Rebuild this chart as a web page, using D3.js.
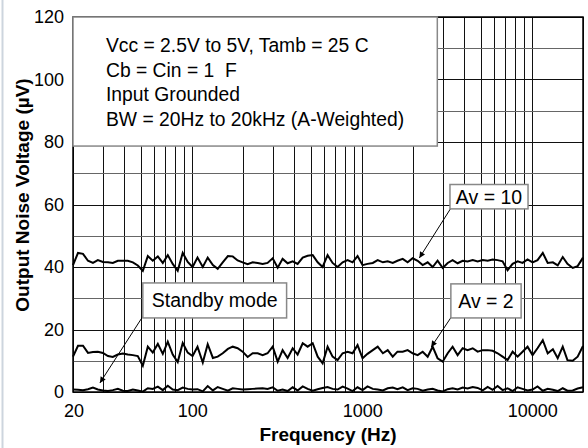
<!DOCTYPE html>
<html>
<head>
<meta charset="utf-8">
<script src="https://cdn.jsdelivr.net/npm/d3@7"></script>
<style>
  body { margin: 0; background: #fff; }
  svg { display: block; font-family: "Liberation Sans", Arial, sans-serif; }
  svg text { white-space: pre; }
</style>
</head>
<body>
<div id="chart"></div>
<script>
// Frequency points of the sweep (Hz)
const freqs = [
  20, 21.4, 22.9, 24.5, 26.2, 28.0, 30.0, 32.1, 34.3, 36.7,
  39.3, 42.0, 45.0, 48.1, 51.5, 55.1, 58.9, 63.1, 67.5, 72.2,
  77.2, 82.6, 88.4, 94.6, 101, 108, 116, 124, 133, 142,
  152, 163, 174, 186, 199, 213, 228, 244, 261, 279,
  299, 320, 342, 366, 392, 419, 449, 480, 514, 550,
  588, 629, 673, 720, 771, 825, 882, 944, 1010, 1080,
  1160, 1240, 1330, 1420, 1520, 1620, 1740, 1860, 1990, 2130,
  2280, 2440, 2610, 2790, 2990, 3200, 3420, 3660, 3920, 4190,
  4490, 4800, 5140, 5500, 5880, 6290, 6730, 7200, 7710, 8250,
  8820, 9440, 10100, 10800, 11600, 12400, 13300, 14200, 15200, 16200,
  17400, 18600, 20000
]

// Output noise (µV)
const av10 = [
  40.6, 44.5, 44.2, 42.0, 41.3, 42.2, 41.6, 41.5, 41.3, 42.0,
  42.0, 42.0, 41.5, 40.5, 38.8, 43.5, 42.0, 43.4, 41.3, 43.8,
  41.0, 38.8, 44.5, 41.6, 40.0, 43.0, 40.0, 43.0, 40.6, 39.4,
  41.5, 43.5, 43.4, 42.1, 41.5, 40.9, 41.5, 41.3, 41.0, 41.3,
  42.8, 39.8, 42.6, 41.2, 41.8, 41.0, 43.0, 43.6, 43.8, 41.5,
  40.0, 43.8, 41.3, 40.0, 41.5, 42.2, 41.5, 43.5, 40.6, 41.0,
  41.3, 42.2, 41.5, 41.8, 41.3, 42.0, 42.6, 41.5, 42.8, 42.0,
  40.6, 41.5, 40.0, 42.0, 39.7, 41.3, 42.2, 41.2, 42.0, 41.8,
  42.2, 41.8, 42.2, 42.0, 42.4, 42.2, 41.8, 39.0, 41.0, 41.8,
  41.3, 42.4, 41.5, 42.2, 44.5, 41.3, 41.5, 40.5, 43.2, 41.0,
  39.7, 40.3, 43.0
]

const av2 = [
  11.3, 14.8, 14.8, 12.5, 12.8, 12.9, 12.5, 11.5, 11.2, 12.0,
  12.3, 12.0, 11.8, 11.5, 8.4, 14.5, 12.6, 15.4, 12.2, 16.1,
  12.0, 9.6, 15.7, 12.6, 11.5, 14.5, 9.4, 15.3, 10.9, 11.3,
  12.4, 13.8, 14.5, 14.0, 12.9, 11.2, 12.4, 12.4, 11.8, 12.4,
  14.5, 9.7, 13.4, 10.9, 14.0, 12.0, 15.6, 14.5, 15.6, 11.3,
  9.2, 14.5, 11.3, 10.2, 12.4, 12.9, 12.4, 15.0, 10.8, 12.2,
  13.4, 14.5, 12.4, 13.4, 11.3, 12.9, 12.9, 13.4, 12.4, 11.8,
  12.9, 11.3, 14.5, 10.8, 9.7, 12.4, 14.5, 11.8, 14.0, 13.4,
  14.0, 12.9, 13.4, 13.4, 13.2, 12.4, 11.3, 10.2, 12.9, 11.3,
  12.9, 14.5, 11.8, 14.0, 16.6, 12.4, 13.7, 10.8, 14.5, 10.2,
  10.0, 11.3, 14.7
]

const standby = [
  0.8, 0.7, 0.6, 0.9, 1.4, 0.8, 0.5, 0.3, 0.6, 1.0,
  0.4, 0.3, 0.8, 0.5, 0.1, 1.2, 1.0, 1.7, 0.6, 2.0,
  0.8, 0.6, 1.4, 1.0, 0.8, 0.9, 0.2, 1.9, 0.5, 1.6,
  1.0, 0.4, 1.2, 1.0, 0.8, 0.9, 1.0, 1.1, 1.2, 1.0,
  1.5, 0.4, 0.8, 0.3, 1.5, 0.5, 1.8, 1.0, 0.4, 0.9,
  1.3, 1.6, 1.0, 0.8, 1.7, 1.1, 0.3, 1.5, 0.6, 1.8,
  1.0, 0.8, 0.5, 1.2, 1.4, 0.9, 1.5, 0.6, 1.2, 1.0,
  0.4, 0.8, 1.0, 0.5, 0.2, 0.9, 1.2, 0.8, 1.4, 1.1,
  1.6, 1.3, 0.5, 1.6, 0.7, 1.9, 0.6, 1.2, 0.3, 1.5,
  1.0, 0.5, 0.8, 1.8, 0.4, 1.0, 0.7, 0.3, 1.2, 0.4,
  0.5, 1.1, 1.5
]

const xTickLabels = [20, 100, 1000, 10000]
const yTickLabels = [0, 20, 40, 60, 80, 100, 120]

const conditions = [
  "Vcc = 2.5V to 5V, Tamb = 25 C",
  "Cb = Cin = 1  F",
  "Input Grounded",
  "BW = 20Hz to 20kHz (A-Weighted)"
]

const width = 588
const height = 448
const margin = { top: 17, right: 5, bottom: 56, left: 73 }

const x = d3.scaleLog()
  .domain([20, 20000])
  .range([margin.left, width - margin.right])

const y = d3.scaleLinear()
  .domain([0, 120])
  .range([height - margin.bottom, margin.top])

// callout boxes in data units: [f0, f1, vTop, vBottom], arrow from -> to
const callouts = [
  { label: "Av = 10", box: [3300, 9500, 66.4, 58.6], from: [3320, 58.6], to: [2180, 42.9] },
  { label: "Av = 2", box: [3340, 8650, 34.6, 23.7], from: [3380, 24.2], to: [2560, 14.4] },
  { label: "Standby mode", box: [51.5, 361, 34.9, 23.7], from: [51.5, 24.2], to: [28.8, 2.9] }
]
const condBox = [20, 2780, 120, 78.7]

const svg = d3.select("#chart")
  .append("svg")
  .attr("width", width)
  .attr("height", height)

// faint page edge on the left
svg.append("line")
  .attr("x1", 2.5).attr("x2", 2.5)
  .attr("y1", 0).attr("y2", height)
  .attr("stroke", "#cdd5de")
  .attr("stroke-width", 2)

// Grid
svg.append("g")
  .selectAll("line")
  .data(x.ticks())
  .join("line")
  .attr("x1", d => Math.round(x(d)) + 0.5)
  .attr("x2", d => Math.round(x(d)) + 0.5)
  .attr("y1", y(0))
  .attr("y2", y(120))
  .attr("stroke", "#111")
  .attr("stroke-width", 1)

svg.append("g")
  .selectAll("line")
  .data(y.ticks(12))
  .join("line")
  .attr("x1", x(20))
  .attr("x2", x(20000))
  .attr("y1", d => Math.round(y(d)) + 0.5)
  .attr("y2", d => Math.round(y(d)) + 0.5)
  .attr("stroke", d => d % 20 === 0 ? "#111" : "#666")
  .attr("stroke-width", 1)

// Curves
const line = d3.line()
  .x((d, i) => x(freqs[i]))
  .y(d => y(d))

for (const s of [av10, av2, standby]) {
  svg.append("path")
    .datum(s)
    .attr("fill", "none")
    .attr("stroke", "#000")
    .attr("stroke-width", 2)
    .attr("stroke-linejoin", "miter")
    .attr("d", line)
}

// Frame
svg.append("rect")
  .attr("x", x(20))
  .attr("y", y(120))
  .attr("width", x(20000) - x(20))
  .attr("height", y(0) - y(120))
  .attr("fill", "none")
  .attr("stroke", "#000")
  .attr("stroke-width", 1.5)

// Tick labels
svg.append("g")
  .selectAll("text")
  .data(yTickLabels)
  .join("text")
  .attr("x", x(20) - 9)
  .attr("y", d => y(d))
  .attr("dy", "0.35em")
  .attr("text-anchor", "end")
  .attr("font-size", 18)
  .text(d => d)

svg.append("g")
  .selectAll("text")
  .data(xTickLabels)
  .join("text")
  .attr("x", d => x(d) + 1)
  .attr("y", y(0) + 25)
  .attr("text-anchor", "middle")
  .attr("font-size", 18)
  .text(d => d)

// Axis titles
svg.append("text")
  .attr("x", (x(20) + x(20000)) / 2)
  .attr("y", height - 7)
  .attr("text-anchor", "middle")
  .attr("font-size", 19)
  .attr("font-weight", "bold")
  .text("Frequency (Hz)")

svg.append("text")
  .attr("transform", `translate(29,195) rotate(-90)`)
  .attr("text-anchor", "middle")
  .attr("font-size", 19)
  .attr("font-weight", "bold")
  .text("Output Noise Voltage (µV)")

// Conditions box
svg.append("rect")
  .attr("x", x(condBox[0]))
  .attr("y", y(condBox[2]))
  .attr("width", x(condBox[1]) - x(condBox[0]))
  .attr("height", y(condBox[3]) - y(condBox[2]))
  .attr("fill", "#fff")
  .attr("stroke", "#888")
  .attr("stroke-width", 1.5)

svg.append("g")
  .selectAll("text")
  .data(conditions)
  .join("text")
  .attr("x", x(condBox[0]) + 33)
  .attr("y", (d, i) => y(condBox[2]) + 35 + i * 24.5)
  .attr("font-size", 19.3)
  .text(d => d)

// Callouts
svg.append("defs").append("marker")
  .attr("id", "arrow")
  .attr("viewBox", "0 0 10 10")
  .attr("refX", 10)
  .attr("refY", 5)
  .attr("markerWidth", 8)
  .attr("markerHeight", 6)
  .attr("markerUnits", "userSpaceOnUse")
  .attr("orient", "auto")
  .append("path")
  .attr("d", "M0,0L10,5L0,10z")
  .attr("fill", "#000")

const cg = svg.append("g")
  .selectAll("g")
  .data(callouts)
  .join("g")

cg.append("line")
  .attr("x1", d => x(d.from[0]))
  .attr("y1", d => y(d.from[1]))
  .attr("x2", d => x(d.to[0]))
  .attr("y2", d => y(d.to[1]))
  .attr("stroke", "#000")
  .attr("stroke-width", 1)
  .attr("marker-end", "url(#arrow)")

cg.append("rect")
  .attr("x", d => x(d.box[0]))
  .attr("y", d => y(d.box[2]))
  .attr("width", d => x(d.box[1]) - x(d.box[0]))
  .attr("height", d => y(d.box[3]) - y(d.box[2]))
  .attr("fill", "#fff")
  .attr("stroke", "#888")
  .attr("stroke-width", 1.5)

cg.append("text")
  .attr("x", d => (x(d.box[0]) + x(d.box[1])) / 2)
  .attr("y", d => (y(d.box[2]) + y(d.box[3])) / 2)
  .attr("dy", "0.36em")
  .attr("text-anchor", "middle")
  .attr("font-size", 19.5)
  .text(d => d.label)
</script>
</body>
</html>
